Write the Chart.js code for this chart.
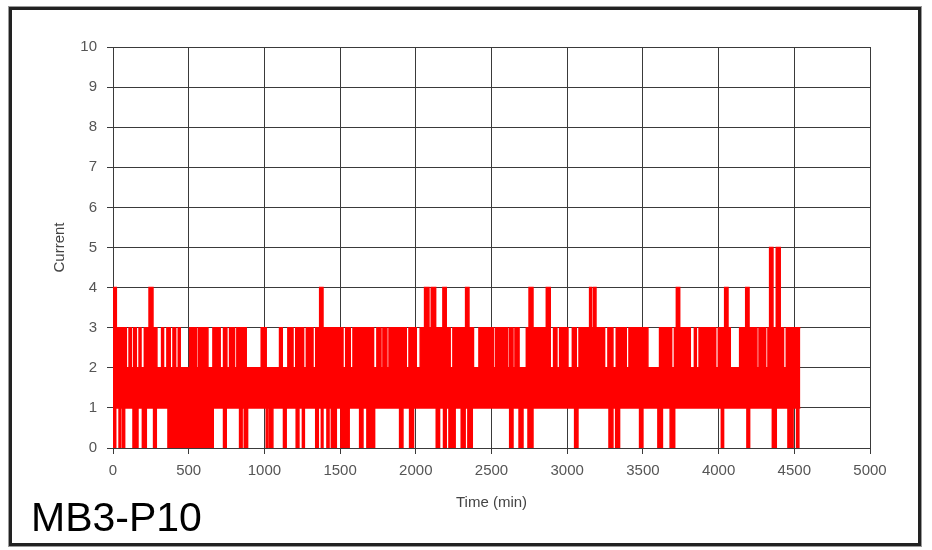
<!DOCTYPE html>
<html>
<head>
<meta charset="utf-8">
<title>MB3-P10 current</title>
<script src="https://cdn.jsdelivr.net/npm/chart.js@4.4.0/dist/chart.umd.min.js"></script>
<style>
    body { margin: 0; background: #ffffff; }
    #wrap { position: relative; width: 932px; height: 550px; overflow: hidden; }
    #frame {
        position: absolute; left: 9px; top: 7px;
        width: 906px; height: 533px;
        border: 3px solid #222222;
        box-shadow: 0 0 0 1px #9a9a9a;
    }
    #chart { position: absolute; left: 0; top: 0; }
    #tag {
        position: absolute; left: 31px; top: 495px;
        font-family: 'Liberation Sans', Arial, sans-serif;
        font-size: 41px; color: #000000; line-height: 44px;
    }
</style>
</head>
<body>
<div id="wrap">
    <div id="frame"></div>
    <canvas id="chart" width="932" height="550"></canvas>
    <div id="tag">MB3-P10</div>
</div>
<script>
// ==========================================
// DATA (minutes)
// ==========================================

// current sits between 1 and 2 for the whole record, these are the excursions
const recordEnd = 4540;
const baseHigh = 2;
const baseLow = 1;

const level3Spans = [
    [0, 88], [106, 121], [136, 154], [172, 185], [207, 290], [321, 334], [356, 378],
    [396, 414], [431, 444], [506, 550], [563, 627], [660, 678], [686, 708], [730, 752],
    [770, 803], [818, 880], [979, 1012], [1100, 1118], [1155, 1189], [1207, 1259],
    [1277, 1321], [1339, 1519], [1537, 1567], [1585, 1721], [1743, 1770], [1783, 1809],
    [1823, 1937], [1955, 2003], [2029, 2227], [2245, 2381], [2417, 2514], [2528, 2607],
    [2620, 2642], [2655, 2682], [2730, 2888], [2910, 2932], [2950, 3005], [3034, 3060],
    [3078, 3247], [3269, 3302], [3324, 3390], [3408, 3533], [3610, 3629], [3637, 3651],
    [3659, 3690], [3708, 3813], [3840, 3853], [3871, 3981], [3998, 4077], [4139, 4253],
    [4267, 4311], [4326, 4429], [4447, 4540]
];

const level4Spans = [
    [0, 22], [238, 264], [1365, 1387], [2058, 2087], [2102, 2131], [2179, 2201],
    [2329, 2351], [2748, 2774], [2862, 2888], [3148, 3162], [3175, 3190], [3721, 3743],
    [4040, 4062], [4179, 4201]
];

const level5Spans = [[4337, 4359], [4381, 4407]];

const level0Spans = [
    [0, 18], [40, 50], [62, 77], [132, 165], [194, 220], [268, 286], [363, 592],
    [600, 612], [620, 630], [640, 650], [655, 662], [730, 748], [836, 853], [867, 889],
    [1012, 1023], [1034, 1056], [1126, 1144], [1210, 1228], [1251, 1264], [1339, 1356],
    [1376, 1387], [1413, 1427], [1442, 1475], [1505, 1560], [1629, 1651], [1677, 1728],
    [1893, 1915], [1959, 1985], [2135, 2157], [2183, 2201], [2219, 2236], [2245, 2260],
    [2300, 2326], [2344, 2373], [2620, 2642], [2682, 2708], [2741, 2774], [3049, 3071],
    [3276, 3302], [3320, 3346], [3478, 3500], [3599, 3629], [3680, 3710], [4018, 4033],
    [4187, 4205], [4355, 4381], [4458, 4473], [4478, 4492], [4515, 4530]
];

const xTicks = { min: 0, max: 5000, step: 500 };
const yTicks = { min: 0, max: 10, step: 1 };

// ==========================================
// BUILD STEP ENVELOPES
// ==========================================

function buildEnvelope(base, levels, pick) {
    let edges = [0, recordEnd];
    levels.forEach(l => l.spans.forEach(s => edges.push(s[0], s[1])));
    edges = [...new Set(edges)].filter(t => t <= recordEnd).sort((a, b) => a - b);

    const points = [];
    for (let i = 0; i < edges.length - 1; i++) {
        const mid = (edges[i] + edges[i + 1]) / 2;
        let value = base;
        levels.forEach(l => {
            if (l.spans.some(s => mid >= s[0] && mid < s[1])) value = pick(value, l.level);
        });
        points.push({ x: edges[i], y: value });
    }
    points.push({ x: recordEnd, y: points[points.length - 1].y });
    return points;
}

const upper = buildEnvelope(baseHigh, [
    { level: 3, spans: level3Spans },
    { level: 4, spans: level4Spans },
    { level: 5, spans: level5Spans }
], Math.max);

const lower = buildEnvelope(baseLow, [
    { level: 0, spans: level0Spans }
], Math.min);

// ==========================================
// CHART
// ==========================================

const font = { family: "'Liberation Sans', Arial, sans-serif", size: 15 };
const gridColor = '#3a3a3a';
const textColor = '#555555';

new Chart(document.getElementById('chart'), {
    type: 'line',
    data: {
        datasets: [{
            label: 'Current',
            data: upper,
            stepped: true,
            borderColor: '#ff0000',
            backgroundColor: '#ff0000',
            borderWidth: 1.5,
            pointRadius: 0,
            fill: '+1'
        }, {
            label: 'Current low',
            data: lower,
            stepped: true,
            borderColor: '#ff0000',
            borderWidth: 1.5,
            pointRadius: 0,
            fill: false
        }]
    },
    options: {
        responsive: false,
        animation: false,
        layout: { padding: { left: 0, top: 47, right: 62, bottom: 0 } },
        plugins: {
            legend: { display: false },
            tooltip: { enabled: false }
        },
        scales: {
            x: {
                type: 'linear',
                min: xTicks.min,
                max: xTicks.max,
                afterFit: s => { s.height = 102; },
                ticks: {
                    stepSize: xTicks.step, color: textColor, font: font, padding: 8, maxRotation: 0,
                    callback: v => String(v)
                },
                grid: { color: gridColor, lineWidth: 1, tickLength: 6 },
                border: { color: gridColor },
                title: { display: true, text: 'Time (min)', color: '#444444', font: font, padding: { top: 0, bottom: 38 } }
            },
            y: {
                min: yTicks.min,
                max: yTicks.max,
                afterFit: s => { s.width = 113; },
                ticks: { stepSize: yTicks.step, color: textColor, font: font, padding: 10 },
                grid: { color: gridColor, lineWidth: 1, tickLength: 6 },
                border: { color: gridColor },
                title: { display: true, text: 'Current', color: '#444444', font: font, padding: { top: 51, bottom: 0 } }
            }
        }
    }
});
</script>
</body>
</html>
